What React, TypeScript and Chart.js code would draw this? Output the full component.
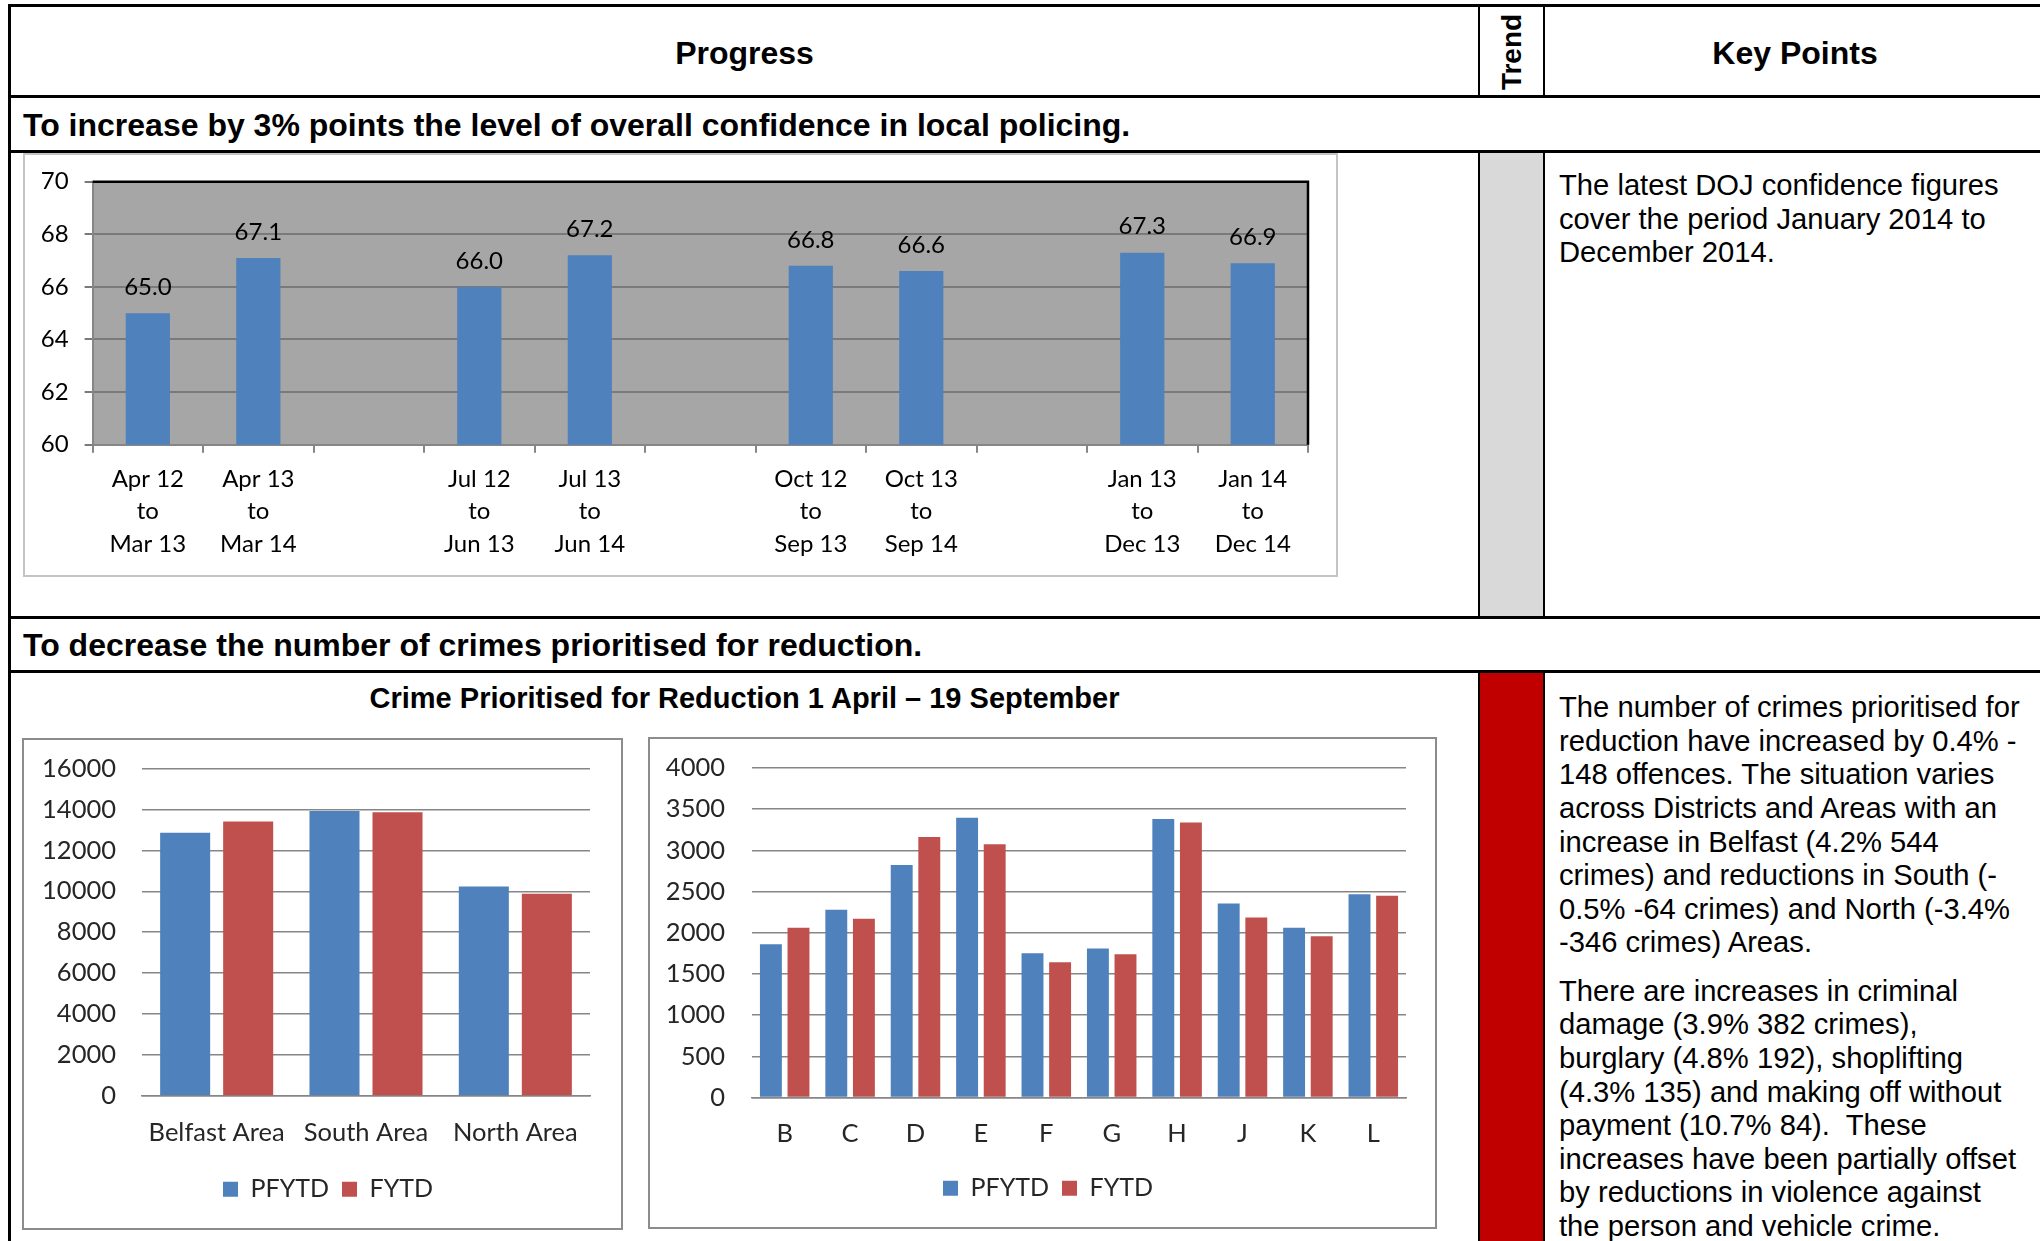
import React, { useEffect, useRef } from "react";
import { Chart, registerables } from "chart.js";

Chart.register(...registerables);
Chart.defaults.font.family = "Lato, 'Open Sans', sans-serif";

// Confidence in local policing (rolling 12-month survey periods)
const confidencePeriods: (string | string[])[] = [
  ["Apr 12", "to", "Mar 13"],
  ["Apr 13", "to", "Mar 14"],
  "",
  ["Jul 12", "to", "Jun 13"],
  ["Jul 13", "to", "Jun 14"],
  "",
  ["Oct 12", "to", "Sep 13"],
  ["Oct 13", "to", "Sep 14"],
  "",
  ["Jan 13", "to", "Dec 13"],
  ["Jan 14", "to", "Dec 14"],
];
const confidenceValues: (number | null)[] = [65.0, 67.1, null, 66.0, 67.2, null, 66.8, 66.6, null, 67.3, 66.9];
const confidenceMin = 60;
const confidenceMax = 70;
const confidenceStep = 2;

// Crime prioritised for reduction, by area and by district
const seriesNames = ["PFYTD", "FYTD"];
const areaNames = ["Belfast Area", "South Area", "North Area"];
const areaPfytd = [12860, 13920, 10230];
const areaFytd = [13404, 13856, 9884];
const areaMax = 16000;
const areaStep = 2000;

const districtNames = ["B", "C", "D", "E", "F", "G", "H", "J", "K", "L"];
const districtPfytd = [1860, 2280, 2823, 3397, 1751, 1809, 3380, 2354, 2061, 2467];
const districtFytd = [2061, 2170, 3162, 3074, 1642, 1738, 3338, 2186, 1956, 2450];
const districtMax = 4000;
const districtStep = 500;

const BLUE = "#4f81bd";
const RED = "#c0504d";
const GRID = "#868686";

const confidenceKeyLines = [
  "The latest DOJ confidence figures",
  "cover the period January 2014 to",
  "December 2014.",
];
const crimeKeyPara1 = [
  "The number of crimes prioritised for",
  "reduction have increased by 0.4% -",
  "148 offences. The situation varies",
  "across Districts and Areas with an",
  "increase in Belfast (4.2% 544",
  "crimes) and reductions in South (-",
  "0.5% -64 crimes) and North (-3.4%",
  "-346 crimes) Areas.",
];
const crimeKeyPara2 = [
  "There are increases in criminal",
  "damage (3.9% 382 crimes),",
  "burglary (4.8% 192), shoplifting",
  "(4.3% 135) and making off without",
  "payment (10.7% 84).  These",
  "increases have been partially offset",
  "by reductions in violence against",
  "the person and vehicle crime.",
];

// grey plot background with a black top/right frame
const plotFrame = {
  id: "plotFrame",
  beforeDraw(chart: any) {
    const { ctx, chartArea: a } = chart;
    ctx.save();
    ctx.fillStyle = "#a6a6a6";
    ctx.fillRect(a.left, a.top, a.right - a.left, a.bottom - a.top);
    ctx.restore();
  },
  afterDatasetsDraw(chart: any) {
    const { ctx, chartArea: a } = chart;
    ctx.save();
    ctx.strokeStyle = "#000";
    ctx.lineWidth = 2.5;
    ctx.beginPath();
    ctx.moveTo(a.left, a.top);
    ctx.lineTo(a.right, a.top);
    ctx.lineTo(a.right, a.bottom);
    ctx.stroke();
    ctx.restore();
  },
};

// value printed above each bar
const valueLabels = {
  id: "valueLabels",
  afterDatasetsDraw(chart: any) {
    const { ctx } = chart;
    const meta = chart.getDatasetMeta(0);
    const data = chart.data.datasets[0].data;
    ctx.save();
    ctx.font = "24px Lato";
    ctx.fillStyle = "#000";
    ctx.textAlign = "center";
    ctx.textBaseline = "middle";
    meta.data.forEach((bar: any, i: number) => {
      const v = data[i];
      if (v == null) return;
      ctx.fillText(Number(v).toFixed(1), bar.x, bar.y - 26);
    });
    ctx.restore();
  },
};

function confidenceConfig(h: number): any {
  return {
    type: "bar",
    data: {
      labels: confidencePeriods,
      datasets: [
        {
          data: confidenceValues,
          backgroundColor: BLUE,
          categoryPercentage: 1,
          barPercentage: 0.4,
        },
      ],
    },
    plugins: [plotFrame, valueLabels],
    options: {
      responsive: false,
      animation: false,
      layout: { padding: { top: 26.7, right: 28, left: 0, bottom: 0 } },
      plugins: { legend: { display: false }, tooltip: { enabled: false } },
      scales: {
        x: {
          grid: { offset: true, drawOnChartArea: false, drawTicks: true, tickLength: 8, color: GRID, lineWidth: 2 },
          border: { color: GRID, width: 2 },
          ticks: {
            autoSkip: false,
            maxRotation: 0,
            padding: 10,
            color: "#000",
            font: { size: 24, lineHeight: 1.354 },
          },
          afterFit: (s: any) => {
            s.height = h - 289.7;
          },
        },
        y: {
          min: confidenceMin,
          max: confidenceMax,
          grid: { color: "#7a7a7a", lineWidth: 2, tickLength: 8 },
          border: { color: GRID, width: 2 },
          ticks: { stepSize: confidenceStep, padding: 16, color: "#000", font: { size: 24, lineHeight: 0.8 } },
          afterFit: (s: any) => {
            s.width = 67.6;
          },
        },
      },
    },
  };
}

type CrimeLayout = {
  yWidth: number;
  padLeft: number;
  padTop: number;
  rightGap: number;
  xHeight: number;
  xPad: number;
  yPad: number;
};

function crimeConfig(labels: string[], a: number[], b: number[], max: number, step: number, L: CrimeLayout): any {
  return {
    type: "bar",
    data: {
      labels,
      datasets: [
        { label: seriesNames[0], data: a, backgroundColor: BLUE },
        { label: seriesNames[1], data: b, backgroundColor: RED },
      ],
    },
    options: {
      responsive: false,
      animation: false,
      datasets: { bar: { categoryPercentage: 0.844, barPercentage: 0.794 } },
      layout: { padding: { top: L.padTop, right: 0, left: L.padLeft, bottom: 16.25 } },
      plugins: {
        tooltip: { enabled: false },
        legend: {
          position: "bottom",
          labels: { boxWidth: 15, boxHeight: 15, padding: 13, color: "#262626", font: { size: 25 } },
        },
      },
      scales: {
        x: {
          grid: { display: false },
          border: { color: GRID, width: 1.5 },
          ticks: { padding: L.xPad, color: "#262626", font: { size: 25.5 }, maxRotation: 0, autoSkip: false },
          afterFit: (s: any) => {
            s.height = L.xHeight;
          },
        },
        y: {
          min: 0,
          max,
          grid: { color: GRID, lineWidth: 1.5, drawTicks: true, tickLength: 20, tickColor: "rgba(0,0,0,0)" },
          border: { display: false },
          ticks: {
            stepSize: step,
            padding: L.yPad,
            color: "#262626",
            font: { size: 25.5 },
            callback: (v: any) => String(v),
          },
          afterFit: (s: any) => {
            s.width = L.yWidth;
          },
        },
        // empty right-hand gutter between plot and frame
        gutter: {
          position: "right",
          grid: { display: false },
          border: { display: false },
          ticks: { display: false },
          afterFit: (s: any) => {
            s.width = L.rightGap;
          },
        },
      },
    },
  };
}

function ChartBox(props: { left: number; top: number; width: number; height: number; border: string; make: (h: number) => any }) {
  const ref = useRef<HTMLCanvasElement>(null);
  const cw = props.width - 4;
  const ch = props.height - 4;
  useEffect(() => {
    const chart = new Chart(ref.current as HTMLCanvasElement, props.make(ch));
    return () => chart.destroy();
  }, []);
  return (
    <div
      style={{
        position: "absolute",
        left: props.left,
        top: props.top,
        width: props.width,
        height: props.height,
        boxSizing: "border-box",
        border: `2px solid ${props.border}`,
        background: "#fff",
      }}
    >
      <canvas ref={ref} width={cw} height={ch} style={{ display: "block", width: cw, height: ch }} />
    </div>
  );
}

function Rule(p: { x: number; y: number; w: number; h: number }) {
  return <div style={{ position: "absolute", left: p.x, top: p.y, width: p.w, height: p.h, background: "#000" }} />;
}

function TextLine(p: { x: number; cy: number; text: string; size: number; bold?: boolean; lh?: number; width?: number; center?: boolean }) {
  const lh = p.lh ?? 40;
  return (
    <div
      style={{
        position: "absolute",
        left: p.x,
        top: p.cy - lh / 2,
        width: p.width,
        height: lh,
        lineHeight: `${lh}px`,
        fontSize: p.size,
        fontWeight: p.bold ? "bold" : "normal",
        whiteSpace: "pre",
        textAlign: p.center ? "center" : "left",
        color: "#000",
      }}
    >
      {p.text}
    </div>
  );
}

export default function App() {
  const V1 = 1478;
  const V2 = 1543;
  return (
    <div
      style={{
        position: "fixed",
        left: 0,
        top: 0,
        width: 2040,
        height: 1241,
        overflow: "hidden",
        background: "#fff",
        fontFamily: "'Liberation Sans', Arial, sans-serif",
      }}
    >
      {/* trend cells */}
      <div style={{ position: "absolute", left: V1 + 2, top: 153, width: V2 - V1 - 2, height: 463, background: "#d9d9d9" }} />
      <div style={{ position: "absolute", left: V1 + 2, top: 673, width: V2 - V1 - 2, height: 600, background: "#c00000" }} />

      {/* table rules */}
      <Rule x={8} y={4} w={2040} h={3} />
      <Rule x={8} y={4} w={3} h={1250} />
      <Rule x={8} y={95} w={2040} h={3} />
      <Rule x={8} y={150} w={2040} h={3} />
      <Rule x={8} y={616} w={2040} h={3} />
      <Rule x={8} y={670} w={2040} h={3} />
      {[V1, V2].map((x) => (
        <React.Fragment key={x}>
          <Rule x={x} y={4} w={2} h={92} />
          <Rule x={x} y={150} w={2} h={468} />
          <Rule x={x} y={670} w={2} h={600} />
        </React.Fragment>
      ))}

      {/* headers */}
      <TextLine x={11} width={V1 - 11} cy={53} text="Progress" size={32} bold center />
      <TextLine x={V2 + 2} width={500} cy={53} text="Key Points" size={32} bold center />
      <div
        style={{
          position: "absolute",
          left: 1512,
          top: 52,
          transform: "translate(-50%, -50%) rotate(-90deg)",
          fontSize: 28,
          fontWeight: "bold",
          lineHeight: "32px",
          whiteSpace: "pre",
        }}
      >
        Trend
      </div>

      <TextLine x={23} cy={124.5} text="To increase by 3% points the level of overall confidence in local policing." size={32} bold />
      <TextLine x={23} cy={645} text="To decrease the number of crimes prioritised for reduction." size={32} bold />
      <TextLine x={11} width={V1 - 11} cy={698} text="Crime Prioritised for Reduction 1 April – 19 September" size={29} bold center />

      {/* key points */}
      {confidenceKeyLines.map((t, i) => (
        <TextLine key={"c" + i} x={1559} cy={186 + i * 33.6} text={t} size={29.2} lh={33.6} />
      ))}
      {crimeKeyPara1.map((t, i) => (
        <TextLine key={"p" + i} x={1559} cy={708 + i * 33.6} text={t} size={29.2} lh={33.6} />
      ))}
      {crimeKeyPara2.map((t, i) => (
        <TextLine key={"q" + i} x={1559} cy={991.6 + i * 33.6} text={t} size={29.2} lh={33.6} />
      ))}

      {/* charts */}
      <ChartBox left={23} top={153} width={1315} height={424} border="#c4c4c4" make={(h) => confidenceConfig(h)} />
      <ChartBox
        left={22}
        top={738}
        width={601}
        height={492}
        border="#8c8c8c"
        make={() =>
          crimeConfig(areaNames, areaPfytd, areaFytd, areaMax, areaStep, {
            yWidth: 107,
            padLeft: 11,
            padTop: 28.4,
            rightGap: 31,
            xHeight: 67.75,
            xPad: 13,
            yPad: 6,
          })
        }
      />
      <ChartBox
        left={648}
        top={737}
        width={789}
        height={492}
        border="#8c8c8c"
        make={() =>
          crimeConfig(districtNames, districtPfytd, districtFytd, districtMax, districtStep, {
            yWidth: 91,
            padLeft: 11,
            padTop: 29,
            rightGap: 29,
            xHeight: 65.25,
            xPad: 13,
            yPad: 7,
          })
        }
      />
    </div>
  );
}
